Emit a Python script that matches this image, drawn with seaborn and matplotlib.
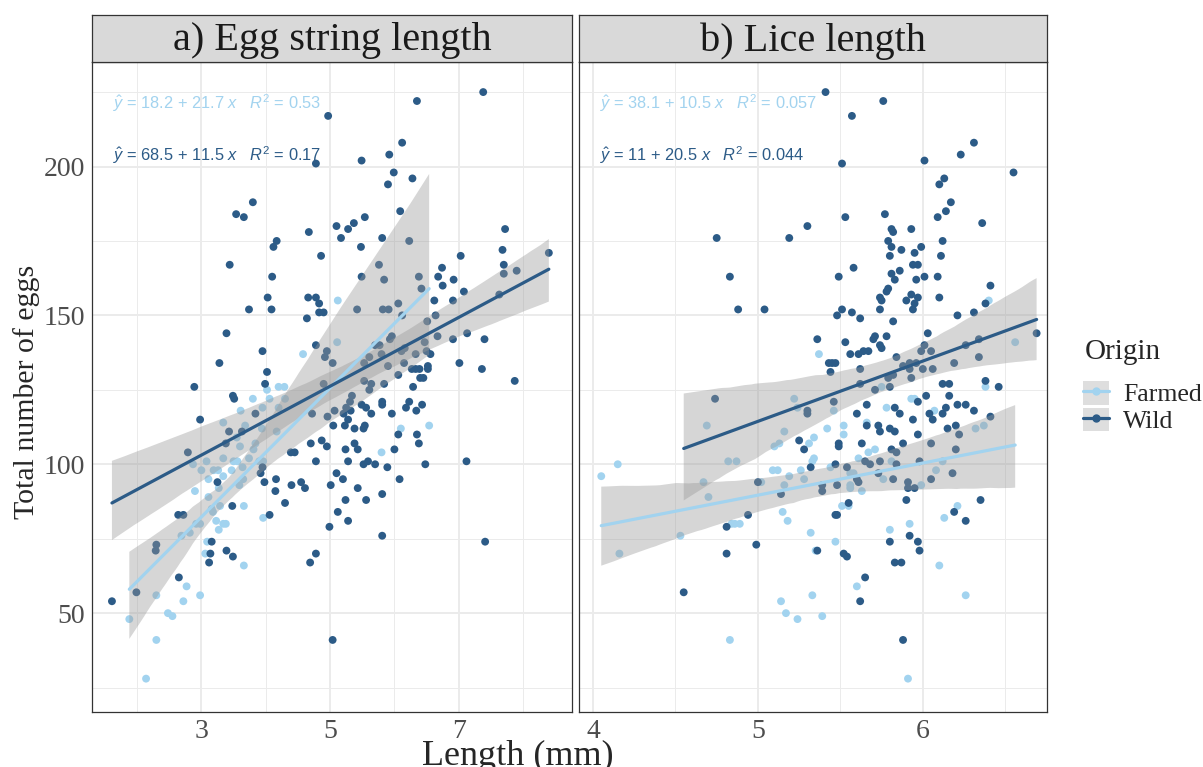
import numpy as np
import pandas as pd
import matplotlib
matplotlib.use("Agg")
import matplotlib.pyplot as plt
import seaborn as sns
from matplotlib.ticker import FixedLocator
from matplotlib.lines import Line2D
from matplotlib.patches import Patch

# ---- data ----
# panel a: egg string length (mm) vs total number of eggs
a_farmed_x = [5.12, 5.11, 4.58, 6.10, 6.54, 5.80, 4.20, 4.29, 4.02, 3.80, 4.06, 4.30, 3.95, 3.61, 4.20,
              3.34, 3.68, 3.94, 4.17, 3.55, 3.84, 3.60, 3.81, 2.87, 3.08, 3.34, 3.50, 3.56, 3.74, 3.90,
              3.96, 3.00, 3.19, 3.26, 3.47, 3.64, 3.11, 3.34, 3.65, 2.90, 3.27, 3.59, 3.11, 3.29, 3.16,
              3.18, 3.66, 3.23, 3.34, 3.38, 3.27, 2.92, 2.98, 2.82, 2.69, 3.96, 3.09, 3.06, 3.66, 2.77,
              2.30, 2.72, 2.98, 2.48, 2.55, 1.88, 2.30, 2.14]
a_farmed_y = [155, 141, 137, 112, 113, 104, 126, 126, 125, 122, 122, 122, 119, 118, 119,
              114, 113, 112, 111, 109, 107, 106, 105, 100, 101, 102, 101, 101, 102, 101,
              101, 98, 98, 98, 98, 99, 95, 96, 95, 91, 92, 93, 89, 86, 85,
              84, 86, 81, 80, 80, 78, 80, 80, 77, 76, 82, 74, 70, 66, 59,
              56, 54, 56, 50, 49, 48, 41, 28]
a_wild_x = [7.38, 6.35, 4.97, 6.12, 4.78, 5.49, 5.92, 5.99, 5.90, 6.28, 6.09, 4.67, 5.10, 5.28, 5.37,
            5.54, 5.17, 5.81, 6.23, 5.48, 7.72, 4.86, 7.68, 8.40, 7.03, 5.76, 7.70, 6.74, 6.68, 5.49,
            5.84, 6.92, 6.75, 7.70, 7.90, 6.38, 6.42, 7.08, 4.66, 4.78, 4.83, 4.83, 4.90, 4.64, 5.42,
            5.82, 5.91, 6.06, 6.12, 6.62, 6.91, 7.63, 6.64, 6.51, 6.67, 6.91, 7.13, 7.40, 5.93, 5.96,
            5.70, 5.77, 6.47, 4.78, 4.95, 4.92, 5.04, 5.61, 5.80, 5.53, 6.11, 6.16, 6.33, 6.50, 6.56,
            5.90, 6.15, 6.27, 6.33, 6.39, 6.52, 6.52, 7.01, 7.36, 6.06, 6.45, 6.40, 7.87, 6.29, 4.90,
            5.53, 5.64, 5.84, 5.61, 5.34, 5.31, 5.25, 5.32, 5.21, 5.07, 4.96, 4.72, 5.28, 5.05, 5.23,
            5.38, 5.49, 5.56, 5.64, 5.81, 5.81, 5.96, 6.18, 6.23, 6.34, 6.43, 5.54, 5.52, 6.06, 6.35,
            6.38, 4.70, 4.87, 4.95, 5.24, 5.38, 5.43, 6.00, 4.78, 5.28, 5.52, 5.59, 5.70, 5.89, 6.48,
            7.12, 5.10, 5.20, 6.08, 4.55, 4.61, 5.01, 5.43, 5.81, 5.24, 5.56, 5.12, 5.28, 4.99, 5.81,
            7.41, 4.78, 4.69, 5.04, 4.17, 4.12, 3.44, 4.10, 4.03, 3.74, 4.09, 3.39, 3.95, 3.28, 4.02,
            2.89, 3.99, 3.49, 3.51, 3.84, 2.98, 3.43, 3.63, 3.38, 2.79, 4.39, 4.45, 3.95, 3.92, 3.80,
            3.54, 3.66, 3.98, 4.16, 4.15, 4.40, 4.30, 4.06, 3.25, 3.48, 2.64, 2.72, 3.16, 2.30, 2.29,
            3.14, 3.39, 3.49, 3.12, 2.65, 1.99, 1.61]
a_wild_y = [225, 222, 217, 208, 201, 202, 204, 198, 194, 196, 185, 178, 180, 179, 181,
            183, 176, 176, 175, 173, 179, 170, 172, 171, 170, 167, 167, 166, 163, 163,
            162, 162, 160, 164, 165, 163, 159, 158, 156, 156, 154, 151, 151, 149, 152,
            152, 152, 154, 150, 155, 155, 157, 150, 148, 143, 142, 144, 142, 142, 143,
            140, 140, 141, 140, 138, 136, 134, 136, 137, 134, 138, 139, 137, 138, 137,
            133, 134, 132, 132, 132, 133, 132, 134, 132, 130, 129, 129, 128, 126, 127,
            128, 127, 127, 125, 123, 121, 119, 118, 117, 118, 116, 117, 115, 113, 113,
            112, 120, 119, 117, 121, 120, 117, 119, 121, 118, 120, 113, 112, 110, 110,
            107, 107, 108, 106, 105, 107, 105, 105, 101, 101, 100, 101, 100, 99, 100,
            101, 97, 95, 95, 94, 92, 93, 92, 90, 88, 88, 84, 81, 79, 76,
            74, 70, 67, 41, 175, 173, 167, 163, 156, 152, 152, 144, 138, 134, 131,
            126, 127, 123, 122, 117, 115, 111, 111, 107, 104, 104, 104, 99, 97, 188,
            184, 183, 94, 95, 91, 93, 87, 83, 94, 86, 83, 83, 74, 73, 71,
            70, 71, 69, 67, 62, 57, 54]

# panel b: lice length (mm) vs total number of eggs
b_farmed_x = [6.40, 6.56, 5.37, 5.75, 6.38, 5.22, 5.24, 4.69, 5.16, 5.10, 5.13, 5.31, 5.33, 4.82, 4.87,
              5.09, 5.12, 4.15, 4.05, 5.19, 5.26, 5.28, 4.67, 5.02, 5.16, 4.70, 5.15, 5.18, 4.84, 4.86,
              4.89, 5.32, 4.53, 4.16, 5.35, 5.33, 5.14, 5.17, 5.24, 4.83, 5.93, 5.95, 6.07, 5.78, 5.46,
              5.66, 6.32, 6.37, 5.42, 5.52, 5.52, 5.34, 5.71, 5.67, 5.34, 5.61, 5.81, 6.12, 5.44, 5.56,
              5.58, 5.76, 6.08, 5.56, 5.56, 5.63, 5.99, 5.51, 5.55, 6.21, 6.13, 5.92, 5.80, 5.47, 6.10,
              5.60, 5.39, 6.26, 5.91]
b_farmed_y = [155, 141, 137, 126, 126, 122, 119, 113, 111, 106, 107, 107, 101, 101, 101,
              98, 98, 100, 96, 96, 98, 95, 94, 94, 93, 89, 84, 81, 80, 80,
              80, 77, 76, 70, 71, 56, 54, 50, 48, 41, 122, 122, 118, 119, 118,
              114, 112, 113, 112, 113, 110, 109, 105, 104, 102, 102, 101, 101, 99, 97,
              97, 95, 98, 93, 92, 91, 93, 86, 86, 86, 82, 80, 78, 74, 66,
              59, 49, 56, 28]
b_wild_x = [4.75, 5.30, 5.19, 4.83, 4.88, 5.04, 5.41, 5.76, 5.57, 6.31, 6.23, 6.01, 5.51, 6.55, 6.13,
            6.10, 6.17, 6.14, 6.09, 5.77, 5.53, 6.36, 5.81, 5.82, 5.93, 5.79, 6.12, 5.81, 5.87, 5.99,
            5.80, 5.95, 6.11, 5.94, 5.97, 5.58, 5.86, 5.81, 5.49, 5.83, 5.96, 6.01, 6.09, 6.41, 5.79,
            5.78, 5.93, 5.97, 6.10, 5.74, 5.75, 5.90, 5.95, 5.74, 5.94, 6.38, 5.51, 5.48, 5.57, 5.62,
            5.82, 6.21, 6.31, 6.03, 6.69, 5.36, 5.53, 5.70, 5.71, 5.78, 5.74, 5.75, 5.56, 5.61, 5.64,
            5.67, 5.43, 5.45, 5.47, 5.44, 5.84, 6.01, 5.99, 6.05, 6.26, 6.34, 6.34, 6.19, 5.88, 5.92,
            5.96, 5.92, 6.00, 6.06, 5.62, 5.82, 5.79, 5.93, 5.62, 6.12, 6.16, 6.38, 6.46, 4.74, 5.30,
            5.30, 5.25, 5.28, 5.32, 5.00, 5.14, 4.94, 4.81, 4.81, 4.99, 4.55, 5.71, 5.80, 6.02, 5.97,
            6.16, 6.21, 6.26, 6.31, 6.14, 6.12, 6.04, 6.06, 5.83, 5.86, 5.66, 5.60, 5.46, 5.94, 6.41,
            5.66, 5.73, 5.74, 5.80, 5.83, 6.15, 6.20, 6.22, 5.97, 5.63, 5.49, 5.49, 5.88, 6.05, 6.20,
            5.81, 5.84, 5.47, 5.54, 5.65, 5.68, 5.74, 5.84, 5.98, 5.60, 5.61, 5.73, 5.82, 6.05, 6.18,
            5.39, 5.39, 5.48, 5.91, 5.91, 5.95, 5.90, 5.55, 5.47, 5.48, 6.35, 6.19, 6.26, 5.36, 5.80,
            5.92, 5.97, 5.98, 5.52, 5.54, 5.83, 5.87, 5.65, 5.62, 5.88]
b_wild_y = [176, 180, 176, 163, 152, 152, 225, 222, 217, 208, 204, 202, 201, 198, 196,
            194, 188, 185, 183, 184, 183, 181, 179, 178, 179, 175, 175, 173, 172, 173,
            170, 171, 170, 167, 167, 166, 165, 164, 163, 162, 162, 163, 163, 160, 159,
            158, 157, 156, 156, 156, 155, 155, 154, 152, 152, 154, 152, 150, 151, 149,
            148, 150, 151, 144, 144, 142, 141, 142, 143, 143, 140, 139, 137, 137, 138,
            138, 134, 134, 134, 131, 136, 140, 138, 138, 140, 142, 136, 134, 133, 134,
            134, 132, 132, 132, 132, 130, 129, 129, 127, 127, 127, 128, 126, 122, 118,
            117, 108, 105, 99, 94, 90, 83, 79, 70, 73, 57, 125, 126, 123, 121,
            123, 120, 120, 118, 119, 117, 117, 115, 119, 117, 120, 117, 121, 115, 116,
            113, 113, 111, 112, 111, 112, 113, 110, 110, 107, 107, 106, 107, 107, 105,
            105, 104, 100, 99, 101, 100, 101, 100, 101, 95, 94, 97, 95, 95, 97,
            93, 91, 93, 94, 92, 92, 88, 87, 83, 83, 88, 84, 81, 71, 74,
            76, 74, 71, 70, 69, 67, 67, 62, 54, 41]

origins = ["Farmed", "Wild"]
panel_titles = ["a) Egg string length", "b) Lice length"]
eq_labels = {
    0: [r"$\hat{y}$ = 18.2 + 21.7 $x$   $R^2$ = 0.53", r"$\hat{y}$ = 68.5 + 11.5 $x$   $R^2$ = 0.17"],
    1: [r"$\hat{y}$ = 38.1 + 10.5 $x$   $R^2$ = 0.057", r"$\hat{y}$ = 11 + 20.5 $x$   $R^2$ = 0.044"],
}

# ---- style ----
colors = {"Farmed": "#a2d3ef", "Wild": "#2c5b87"}
sns.set_style("white")
plt.rcParams["font.family"] = ["Liberation Serif", "DejaVu Serif"]
plt.rcParams["mathtext.fontset"] = "custom"
plt.rcParams["mathtext.rm"] = "Liberation Sans"
plt.rcParams["mathtext.it"] = "Liberation Sans:italic"

W, H = 1203, 767
fig = plt.figure(figsize=(W / 100, H / 100), dpi=100)

def fx(px):
    return px / W

def fy(py):
    return 1 - py / H

panel_box = [(92, 572), (579, 1047)]
top, bottom, strip_top = 62, 712, 15
xlims = [(1.30, 8.76), (3.915, 6.753)]
ylim = (16.8, 235.1)
x_major = [[3, 5, 7], [4, 5, 6]]
x_minor = [[2, 4, 6, 8], [4.5, 5.5, 6.5]]
y_major = [50, 100, 150, 200]
y_minor = [25, 75, 125, 175, 225]

panels = [
    {"Farmed": (a_farmed_x, a_farmed_y), "Wild": (a_wild_x, a_wild_y)},
    {"Farmed": (b_farmed_x, b_farmed_y), "Wild": (b_wild_x, b_wild_y)},
]

for i, (l, r) in enumerate(panel_box):
    ax = fig.add_axes([fx(l), fy(bottom), fx(r - l), (bottom - top) / H])
    df = pd.concat([
        pd.DataFrame({"length": panels[i][o][0], "eggs": panels[i][o][1], "Origin": o})
        for o in origins
    ], ignore_index=True)

    sns.scatterplot(data=df, x="length", y="eggs", hue="Origin", palette=colors,
                    s=32, linewidth=0, legend=False, ax=ax)
    for o in origins:
        sub = df[df["Origin"] == o]
        n_before = len(ax.collections)
        sns.regplot(data=sub, x="length", y="eggs", scatter=False, ci=95, seed=1,
                    color=colors[o], line_kws={"lw": 2.3}, ax=ax)
        # ggplot-like grey confidence ribbon
        for coll in ax.collections[n_before:]:
            coll.set_facecolor((0.6, 0.6, 0.6))
            coll.set_alpha(0.4)
            coll.set_edgecolor("none")

    ax.set_xlim(*xlims[i])
    ax.set_ylim(*ylim)
    ax.xaxis.set_major_locator(FixedLocator(x_major[i]))
    ax.xaxis.set_minor_locator(FixedLocator(x_minor[i]))
    ax.yaxis.set_major_locator(FixedLocator(y_major))
    ax.yaxis.set_minor_locator(FixedLocator(y_minor))
    ax.grid(True, which="major", color="#ebebeb", lw=1.4, zorder=0)
    ax.grid(True, which="minor", color="#ebebeb", lw=0.7, zorder=0)
    ax.set_axisbelow(True)
    ax.set_xlabel("")
    ax.set_ylabel("")
    for sp in ax.spines.values():
        sp.set_color("#333333")
        sp.set_linewidth(0.9)
    ax.tick_params(which="major", length=3, width=0.8, color="#333333",
                   labelcolor="#4d4d4d", labelsize=20, pad=2)
    ax.tick_params(which="minor", length=0)
    if i == 1:
        ax.tick_params(axis="y", length=0, labelleft=False)

    for k, o in enumerate(origins):
        ax.text(0.044, [0.937, 0.857][k], eq_labels[i][k], transform=ax.transAxes,
                color=colors[o], fontsize=11.8, family="Liberation Sans",
                ha="left", va="center")

    # facet strip
    sax = fig.add_axes([fx(l), fy(top), fx(r - l), (top - strip_top) / H])
    sax.set_facecolor("#d9d9d9")
    sax.set_xticks([])
    sax.set_yticks([])
    for sp in sax.spines.values():
        sp.set_color("#333333")
        sp.set_linewidth(0.9)
    sax.text(0.5, 0.45, panel_titles[i], ha="center", va="center",
             fontsize=29, color="#1a1a1a", transform=sax.transAxes)

fig.text(fx(27), fy(392), "Total number of eggs", rotation=90, ha="center", va="center", fontsize=21.5)
fig.text(fx(518), fy(765), "Length (mm)", ha="center", va="baseline", fontsize=26)

# legend: title as separate text so its gap to the keys can match
fig.text(fx(1085), fy(352), "Origin", ha="left", va="center", fontsize=21)
handles = [
    (Patch(facecolor="#dedede", edgecolor="none"),
     Line2D([], [], color=colors[o], lw=2.3, marker="o", ms=5))
    for o in origins
]
leg = fig.legend(handles, origins, loc="center left",
                 bbox_to_anchor=(fx(1078), fy(407)), frameon=False, fontsize=18.5,
                 handlelength=1.0, handleheight=1.05, labelspacing=0.05,
                 handletextpad=0.55, borderaxespad=0, borderpad=0.2)

fig.savefig("out.png", dpi=100)
